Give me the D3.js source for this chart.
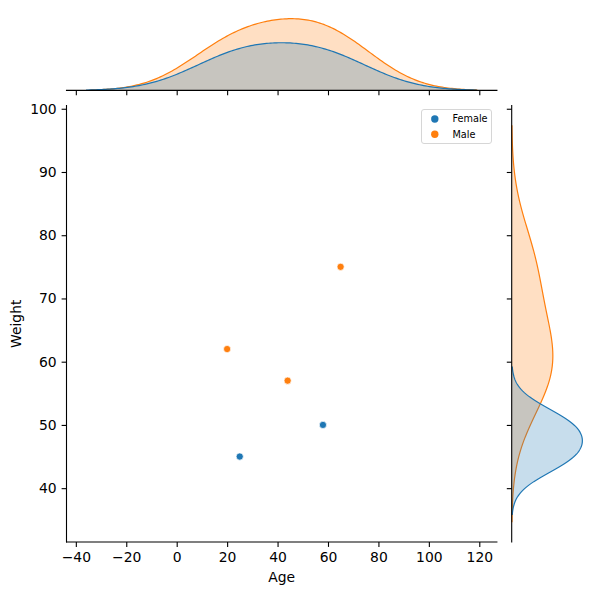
<!DOCTYPE html>
<html><head><meta charset="utf-8">
<script src="https://cdn.jsdelivr.net/npm/d3@7"></script>
<style>body{margin:0;background:#fff}svg{display:block}</style>
</head><body>
<svg id="c" width="600" height="600"></svg>
<script>
const levels = ["Female", "Male"];
const colors = ["#1f77b4", "#ff7f0e"];
const sex = ["Female", "Female", "Male", "Male", "Male"];
const ages = [25, 58, 20, 44, 65];
const weights = [45, 50, 62, 57, 75];
const xTicks = [-40, -20, 0, 20, 40, 60, 80, 100, 120];
const yTicks = [40, 50, 60, 70, 80, 90, 100];

const svg = d3.select("#c");
const font = "DejaVu Sans, sans-serif";
const L = 66.5, R = 496.9, T = 105.5, B = 542;
const mxTop = 15.1, mxBot = 90.4;
const myL = 511.7, myR = 585.9;

// KDE (scipy style: Scott bandwidth, cut=3, gridsize=200, common_norm)
function kde(vals, total) {
  const n = vals.length, m = d3.mean(vals), sd = d3.deviation(vals);
  const bw = sd * Math.pow(n, -0.2);
  const lo = d3.min(vals) - 3 * bw, hi = d3.max(vals) + 3 * bw;
  const pts = [];
  for (let i = 0; i < 200; i++) {
    const x = lo + (hi - lo) * i / 199;
    let s = 0;
    for (const v of vals) s += Math.exp(-0.5 * ((x - v) / bw) ** 2);
    s = s / (n * bw * Math.sqrt(2 * Math.PI));
    pts.push([x, s * n / total]);
  }
  return pts;
}
const N = sex.length;
const groups = levels.map((lv, k) => {
  const idx = d3.range(N).filter(i => sex[i] === lv);
  return {
    name: lv, color: colors[k],
    ax: kde(idx.map(i => ages[i]), N),
    wy: kde(idx.map(i => weights[i]), N)
  };
});

function padDom(lo, hi) { const p = (hi - lo) * 0.05; return [lo - p, hi + p]; }
const xAll = ages.concat(...groups.map(g => g.ax.map(d => d[0])));
const yAll = weights.concat(...groups.map(g => g.wy.map(d => d[0])));
const x = d3.scaleLinear().domain(padDom(d3.min(xAll), d3.max(xAll))).range([L, R]);
const y = d3.scaleLinear().domain(padDom(d3.min(yAll), d3.max(yAll))).range([B, T]);
const dxMax = d3.max(groups, g => d3.max(g.ax, d => d[1]));
const dyMax = d3.max(groups, g => d3.max(g.wy, d => d[1]));
const dX = d3.scaleLinear().domain([0, dxMax * 1.05]).range([mxBot, mxTop]);
const dY = d3.scaleLinear().domain([0, dyMax * 1.05]).range([myL, myR]);

// Marginal x KDE (draw Male first, then Female)
const drawOrder = groups.slice().reverse();
const gx = svg.append("g");
drawOrder.forEach(g => {
  const area = d3.area().x(d => x(d[0])).y0(dX(0)).y1(d => dX(d[1]));
  gx.append("path").attr("d", area(g.ax)).attr("fill", g.color).attr("fill-opacity", 0.25);
  gx.append("path").attr("d", d3.line().x(d => x(d[0])).y(d => dX(d[1]))(g.ax))
    .attr("fill", "none").attr("stroke", g.color).attr("stroke-width", 1.2);
});
const gy = svg.append("g");
drawOrder.forEach(g => {
  const area = d3.area().y(d => y(d[0])).x0(dY(0)).x1(d => dY(d[1]));
  gy.append("path").attr("d", area(g.wy)).attr("fill", g.color).attr("fill-opacity", 0.25);
  gy.append("path").attr("d", d3.line().y(d => y(d[0])).x(d => dY(d[1]))(g.wy))
    .attr("fill", "none").attr("stroke", g.color).attr("stroke-width", 1.2);
});

// Axes
function styleAxis(sel, labels) {
  sel.select(".domain").remove();
  sel.selectAll(".tick line").attr("stroke", "#000").attr("stroke-width", 1.1);
  sel.selectAll(".tick text").attr("font-family", font).attr("font-size", "13.9px").attr("fill", "#000");
  if (!labels) sel.selectAll(".tick text").remove();
}
const fmt = d3.format("d");
const axB = svg.append("g").attr("transform", `translate(0,${B})`)
  .call(d3.axisBottom(x).tickValues(xTicks).tickFormat(d => fmt(d)).tickSize(4.9).tickPadding(4.9));
styleAxis(axB, true);
const axL = svg.append("g").attr("transform", `translate(${L},0)`)
  .call(d3.axisLeft(y).tickValues(yTicks).tickFormat(d => fmt(d)).tickSize(4.9).tickPadding(4.9));
styleAxis(axL, true);
const axMx = svg.append("g").attr("transform", `translate(0,${mxBot})`)
  .call(d3.axisBottom(x).tickValues(xTicks).tickSize(4.9));
styleAxis(axMx, false);
const axMy = svg.append("g").attr("transform", `translate(${myL},0)`)
  .call(d3.axisLeft(y).tickValues(yTicks).tickSize(4.9));
styleAxis(axMy, false);

// Spines
const spine = (x1, y1, x2, y2) => svg.append("line").attr("x1", x1).attr("y1", y1).attr("x2", x2).attr("y2", y2)
  .attr("stroke", "#000").attr("stroke-width", 1.1).attr("stroke-linecap", "square");
spine(L, T, L, B); spine(L, B, R, B);
spine(L, mxBot, R, mxBot);
spine(myL, T, myL, B);

// Scatter
svg.append("g").selectAll("circle").data(d3.range(N)).join("circle")
  .attr("cx", i => x(ages[i])).attr("cy", i => y(weights[i])).attr("r", 3.6)
  .attr("fill", i => colors[levels.indexOf(sex[i])])
  .attr("stroke", "#fff").attr("stroke-width", 0.7);

// Labels
svg.append("text").attr("x", (L + R) / 2).attr("y", 582).attr("text-anchor", "middle")
  .attr("font-family", font).attr("font-size", "13.9px").text("Age");
svg.append("text").attr("transform", `translate(21,${(T + B) / 2}) rotate(-90)`).attr("text-anchor", "middle")
  .attr("font-family", font).attr("font-size", "13.9px").text("Weight");

// Legend
const lg = svg.append("g");
lg.append("rect").attr("x", 421.5).attr("y", 109.5).attr("width", 70).attr("height", 34).attr("rx", 2.5)
  .attr("fill", "#fff").attr("fill-opacity", 0.8).attr("stroke", "#d6d6d6").attr("stroke-width", 1);
levels.forEach((lv, k) => {
  const cy = 119 + k * 15.2;
  lg.append("circle").attr("cx", 434.8).attr("cy", cy).attr("r", 3.7).attr("fill", colors[k]);
  lg.append("text").attr("x", 452.5).attr("y", cy + 3.4).attr("font-family", font)
    .attr("font-size", "9.7px").attr("fill", "#000").text(lv);
});
</script>
</body></html>
